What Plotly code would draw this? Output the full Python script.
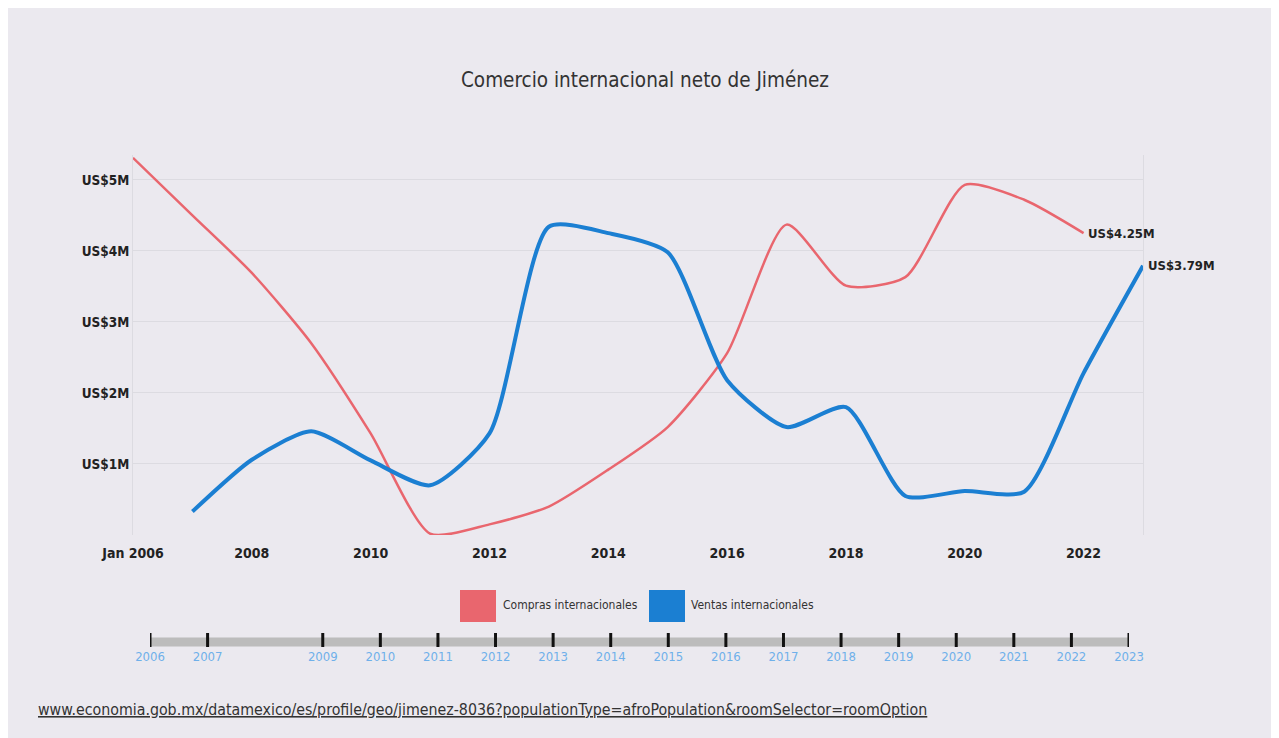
import plotly.graph_objects as go

# data (US$ millions)
compras_years = list(range(2006, 2023))
compras = [5.31, 4.50, 3.69, 2.70, 1.43, 0.02, 0.15, 0.40, 0.92, 1.52, 2.56, 4.37, 3.51, 3.63, 4.93, 4.72, 4.25]

ventas_years = list(range(2007, 2024))
ventas = [0.33, 1.06, 1.46, 1.05, 0.70, 1.43, 4.34, 4.25, 3.98, 2.18, 1.52, 1.80, 0.55, 0.62, 0.61, 2.28, 3.79]

x_tickvals = [2006, 2008, 2010, 2012, 2014, 2016, 2018, 2020, 2022]
x_ticktext = ["Jan 2006", "2008", "2010", "2012", "2014", "2016", "2018", "2020", "2022"]
y_tickvals = [1, 2, 3, 4, 5]
y_ticktext = ["US$1M", "US$2M", "US$3M", "US$4M", "US$5M"]

timeline_years = [2006, 2007] + list(range(2009, 2024))

RED = "#e9666e"
BLUE = "#1b7fd2"
BG = "#ebe9ef"
FONT = "DejaVu Sans Condensed, Liberation Sans Narrow, Roboto, sans-serif"

# page is drawn with an 8px body offset, so margins are set 8px smaller
L, T, B = 125, 147, 60
W, H = 1010, 738 - T - B


def fx(px):
    return (px - 133) / W


def fy(py):
    return (686 - py) / H


fig = go.Figure()

fig.add_trace(go.Scatter(
    x=compras_years, y=compras, mode="lines", name="Compras internacionales",
    line=dict(color=RED, width=2.5, shape="spline", smoothing=0.65),
    showlegend=False
))
fig.add_trace(go.Scatter(
    x=ventas_years, y=ventas, mode="lines", name="Ventas internacionales",
    line=dict(color=BLUE, width=4, shape="spline", smoothing=0.65),
    showlegend=False
))

# timeline slider under the chart
fig.add_trace(go.Scatter(
    x=timeline_years, y=[0] * len(timeline_years), mode="markers",
    marker=dict(symbol="line-ns", size=16, line=dict(width=3, color="#111")),
    xaxis="x2", yaxis="y2", showlegend=False, hoverinfo="skip"
))
fig.add_shape(type="line", xref="x2", yref="y2",
              x0=timeline_years[0] - 0.08, x1=timeline_years[-1] + 0.05, y0=-0.3, y1=-0.3,
              line=dict(color="#bcbcbc", width=9), layer="below")

# end-of-line value labels
fig.add_annotation(x=compras_years[-1], y=compras[-1], text="<b>US$%.2fM</b>" % compras[-1],
                   xanchor="left", yanchor="middle", showarrow=False, xshift=2,
                   font=dict(size=13, color="#222", family=FONT))
fig.add_annotation(x=ventas_years[-1], y=ventas[-1], text="<b>US$%.2fM</b>" % ventas[-1],
                   xanchor="left", yanchor="middle", showarrow=False, xshift=3,
                   font=dict(size=13, color="#222", family=FONT))

# legend drawn as squares + labels
fig.add_shape(type="rect", xref="paper", yref="paper",
              x0=fx(460), x1=fx(496), y0=fy(622), y1=fy(590),
              fillcolor=RED, line=dict(width=0))
fig.add_annotation(xref="paper", yref="paper", x=fx(501), y=fy(605),
                   text="Compras internacionales", showarrow=False, xanchor="left", yanchor="middle",
                   font=dict(size=12, color="#333", family=FONT))
fig.add_shape(type="rect", xref="paper", yref="paper",
              x0=fx(649), x1=fx(685), y0=fy(622), y1=fy(590),
              fillcolor=BLUE, line=dict(width=0))
fig.add_annotation(xref="paper", yref="paper", x=fx(689), y=fy(605),
                   text="Ventas internacionales", showarrow=False, xanchor="left", yanchor="middle",
                   font=dict(size=12, color="#333", family=FONT))

# source url
fig.add_annotation(xref="paper", yref="paper", x=fx(36), y=fy(709),
                   text="<u>www.economia.gob.mx/datamexico/es/profile/geo/jimenez-8036?populationType=afroPopulation&roomSelector=roomOption</u>",
                   showarrow=False, xanchor="left", yanchor="middle",
                   font=dict(size=15.8, color="#333", family=FONT))

fig.update_layout(
    width=1279, height=738,
    margin=dict(l=L, r=1279 - L - W, t=T, b=B),
    paper_bgcolor=BG, plot_bgcolor=BG,
    font=dict(family=FONT, color="#333"),
    title=dict(text="Comercio internacional neto de Jiménez", x=fx(645) * W / 1279 + L / 1279,
               xanchor="center", y=1 - 72 / 738, yanchor="middle",
               font=dict(size=20.5, color="#333", family=FONT)),
    xaxis=dict(range=[2006, 2023], domain=[0, 1], tickvals=x_tickvals,
               ticktext=["<b>%s</b>" % t for t in x_ticktext],
               showgrid=False, zeroline=False, ticks="outside", ticklen=5, tickcolor="rgba(0,0,0,0)",
               tickfont=dict(size=14, color="#222", family=FONT), anchor="y"),
    yaxis=dict(range=[0, 5.35], domain=[fy(535), 1], tickvals=y_tickvals,
               ticktext=["<b>%s</b>" % t for t in y_ticktext],
               showgrid=True, gridcolor="#dcdbe1", gridwidth=1, zeroline=False,
               showline=True, linecolor="#dcdbe1", mirror=True,
               tickfont=dict(size=13.5, color="#222", family=FONT), anchor="x"),
    xaxis2=dict(range=[2006, 2023], domain=[fx(150), fx(1129)],
                tickvals=timeline_years, ticktext=[str(y) for y in timeline_years],
                showgrid=False, zeroline=False, showline=False, ticks="",
                tickfont=dict(size=13, color="#6fb0ea", family=FONT), anchor="y2"),
    yaxis2=dict(range=[-1, 1], domain=[fy(647), fy(633)], visible=False, anchor="x2"),
)

fig.write_html("out.html")
